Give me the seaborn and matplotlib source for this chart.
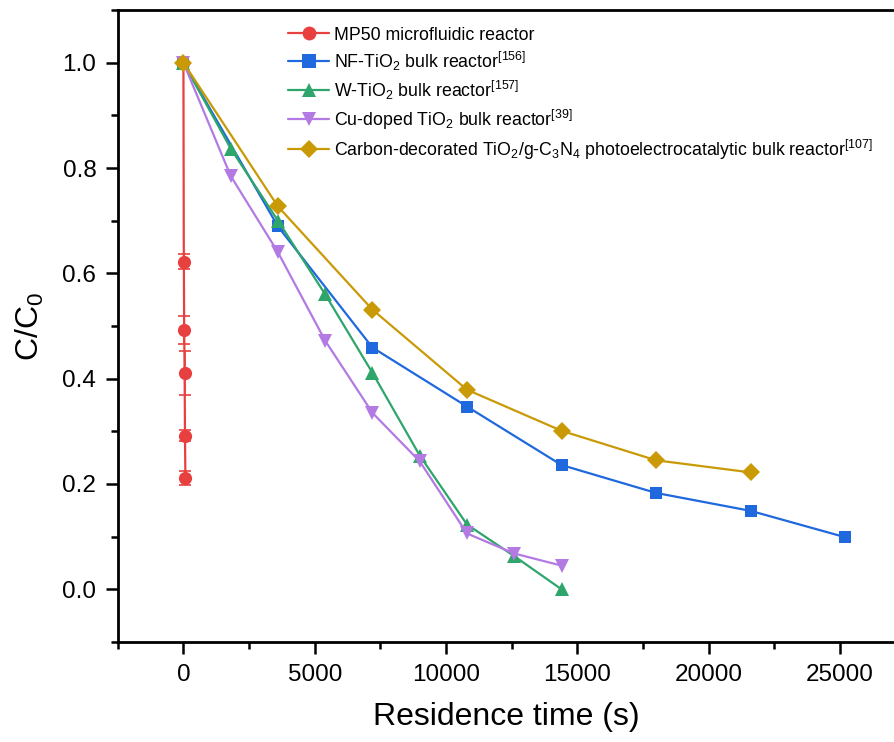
import numpy as np
import pandas as pd
import matplotlib
matplotlib.use("Agg")
import matplotlib.pyplot as plt
from matplotlib.lines import Line2D
from matplotlib.ticker import MultipleLocator
import seaborn as sns

# ---- data ----
mp50_t = [0, 15, 30, 45, 60, 75]
mp50_c = [1.0, 0.622, 0.492, 0.411, 0.292, 0.211]
mp50_err = [0.0, 0.014, 0.027, 0.042, 0.010, 0.013]

nf_t = [0, 3600, 7200, 10800, 14400, 18000, 21600, 25200]
nf_c = [1.0, 0.689, 0.459, 0.347, 0.236, 0.183, 0.149, 0.099]

w_t = [0, 1800, 3600, 5400, 7200, 9000, 10800, 12600, 14400]
w_c = [1.0, 0.837, 0.700, 0.560, 0.411, 0.254, 0.123, 0.063, 0.0]

cu_t = [0, 1800, 3600, 5400, 7200, 9000, 10800, 12600, 14400]
cu_c = [1.0, 0.785, 0.640, 0.472, 0.335, 0.243, 0.106, 0.068, 0.045]

cd_t = [0, 3600, 7200, 10800, 14400, 18000, 21600]
cd_c = [1.0, 0.727, 0.531, 0.379, 0.301, 0.245, 0.222]

labels = [
    "MP50 microfluidic reactor",
    "NF-TiO$_2$ bulk reactor$^{[156]}$",
    "W-TiO$_2$ bulk reactor$^{[157]}$",
    "Cu-doped TiO$_2$ bulk reactor$^{[39]}$",
    "Carbon-decorated TiO$_2$/g-C$_3$N$_4$ photoelectrocatalytic bulk reactor$^{[107]}$",
]
colors = ["#E8403E", "#1F68DD", "#2EA56B", "#B27AE2", "#C99A06"]
markers = ["o", "s", "^", "v", "D"]
msizes = [9.5, 9, 10, 10, 9]

# ---- style ----
sns.set_theme(style="ticks")
plt.rcParams["font.family"] = ["Liberation Sans", "DejaVu Sans"]
plt.rcParams["mathtext.fontset"] = "custom"
plt.rcParams["mathtext.rm"] = "Liberation Sans"
plt.rcParams["mathtext.it"] = "Liberation Sans:italic"
plt.rcParams["mathtext.bf"] = "Liberation Sans:bold"
plt.rcParams["text.color"] = "black"
plt.rcParams["axes.labelcolor"] = "black"

frames = []
for lab, t, c in zip(labels, [mp50_t, nf_t, w_t, cu_t, cd_t],
                     [mp50_c, nf_c, w_c, cu_c, cd_c]):
    frames.append(pd.DataFrame({"t": t, "c": c, "series": lab}))
df = pd.concat(frames, ignore_index=True)

fig = plt.figure(figsize=(8.95, 7.42), dpi=100)
ax = fig.add_axes([0.1316, 0.1348, 1.0 - 0.1316, 0.9865 - 0.1348])

# error bars for MP50
ax.errorbar(mp50_t, mp50_c, yerr=mp50_err, fmt="none", ecolor=colors[0],
            elinewidth=1.2, capsize=4.5, capthick=1.2, zorder=1)

for i, lab in enumerate(labels):
    sub = df[df["series"] == lab]
    sns.lineplot(data=sub, x="t", y="c", ax=ax, color=colors[i],
                 marker=markers[i], markersize=msizes[i], linewidth=1.6,
                 markeredgewidth=0, sort=False, legend=False, zorder=2 + i)

ax.set_xlim(-2500, 27100)
ax.set_ylim(-0.1, 1.1)
ax.xaxis.set_major_locator(MultipleLocator(5000))
ax.xaxis.set_minor_locator(MultipleLocator(2500))
ax.yaxis.set_minor_locator(MultipleLocator(0.1))
ax.set_yticks([0.0, 0.2, 0.4, 0.6, 0.8, 1.0])
ax.set_yticklabels(["0.0", "0.2", "0.4", "0.6", "0.8", "1.0"])

for s in ["left", "bottom", "top"]:
    ax.spines[s].set_linewidth(2.0)
    ax.spines[s].set_color("black")
ax.spines["right"].set_visible(False)

ax.tick_params(which="major", direction="out", length=8.5, width=1.8,
               labelsize=17.5, colors="black", labelcolor="black")
ax.tick_params(axis="x", which="major", pad=7)
ax.tick_params(axis="y", which="major", pad=7)
ax.tick_params(which="minor", direction="out", length=5, width=1.8,
               colors="black")
ax.tick_params(axis="x", which="both", top=False)
ax.tick_params(axis="y", which="both", right=False)

ax.set_xlabel("Residence time (s)", fontsize=23, labelpad=12)
ax.set_ylabel("C/C$_0$", fontsize=23, labelpad=12)

handles = [Line2D([], [], color=colors[i], marker=markers[i],
                  markersize=msizes[i] * 1.05, linewidth=1.6,
                  markeredgewidth=0) for i in range(5)]
fig.legend(handles, labels, loc="upper left",
           bbox_to_anchor=(0.312, 0.976), bbox_transform=fig.transFigure,
           frameon=False, fontsize=12.8, borderpad=0, handlelength=2.3,
           handletextpad=0.3, labelspacing=0.33)

fig.savefig("out.png", dpi=100)
